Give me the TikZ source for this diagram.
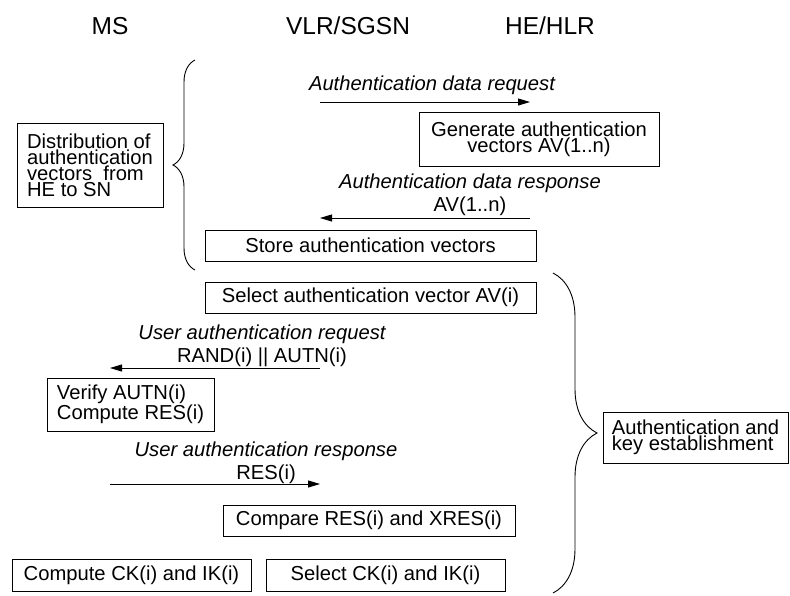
\documentclass[tikz,border=0pt]{standalone}
\usepackage{fontspec}
\setmainfont{Liberation Sans}
\usepackage{tikz}
\usetikzlibrary{arrows.meta,decorations.pathreplacing}
\tikzstyle{Box}=[rectangle, draw=black, line width=0.9pt, inner sep=0pt, align=center, font=\fontsize{20.2}{16}\selectfont]
\tikzstyle{Msg}=[align=center, font=\fontsize{20.2}{22.5}\selectfont]
\tikzstyle{Head}=[font=\fontsize{24.5}{28}\selectfont]
\tikzstyle{Arrow}=[line width=0.9pt, -{Triangle[length=12pt,width=7pt]}]

\begin{document}
\begin{tikzpicture}[x=1pt, y=-1pt]
    \useasboundingbox (0,0) rectangle (790,595);
    \path
    (110,26) node[Head] (ms) {MS}
    (348,26) node[Head] (vlr) {VLR/SGSN}
    (550,26) node[Head] (he) {HE/HLR};

    \path
    (90,165) node[Box, align=left, minimum width=146, minimum height=84] (distr) {Distribution of\\authentication\\vectors~ from\\HE to SN}
    (539,139) node[Box, minimum width=240, minimum height=54] (gen) {Generate authentication\\vectors AV(1..n)}
    (370.5,245.5) node[Box, minimum width=331, minimum height=31] (store) {Store authentication vectors}
    (370.5,297.5) node[Box, minimum width=331, minimum height=31] (selav) {Select authentication vector AV(i)}
    (130.5,404.5) node[Box, align=left, minimum width=167, minimum height=53] (verify) {Verify AUTN(i)\\Compute RES(i)}
    (369,520.5) node[Box, minimum width=292, minimum height=31] (cmp) {Compare RES(i) and XRES(i)}
    (131.5,575) node[Box, minimum width=239, minimum height=32] (ckms) {Compute CK(i) and IK(i)}
    (385.5,575) node[Box, minimum width=239, minimum height=32] (ckvlr) {Select CK(i) and IK(i)}
    (695.5,437.5) node[Box, align=left, minimum width=185, minimum height=51] (ake) {Authentication and\\key establishment};

    \path
    (432,85) node[Msg] (reqlbl) {\itshape Authentication data request}
    (470,195) node[Msg] (rsplbl) {{\itshape Authentication data response}\\AV(1..n)}
    (262,346) node[Msg] (uareq) {{\itshape User authentication request}\\RAND(i) || AUTN(i)}
    (266,463) node[Msg] (uarsp) {{\itshape User authentication response}\\RES(i)};

    \coordinate (req a) at (320,102);
    \coordinate (req b) at (530,102);
    \coordinate (rsp a) at (530,218);
    \coordinate (rsp b) at (320,218);
    \coordinate (uq a) at (320,368);
    \coordinate (uq b) at (110,368);
    \coordinate (ur a) at (110,484);
    \coordinate (ur b) at (320,484);
    \draw[Arrow] (req a) -- (req b);
    \draw[Arrow] (rsp a) -- (rsp b);
    \draw[Arrow] (uq a) -- (uq b);
    \draw[Arrow] (ur a) -- (ur b);

    \coordinate (lb top) at (195,60);
    \coordinate (lb bot) at (195,270);
    \coordinate (rb top) at (553,273);
    \coordinate (rb bot) at (553,593);
    \draw[line width=0.9pt, decorate, decoration={brace, amplitude=22pt}] (lb bot) -- (lb top);
    \draw[line width=0.9pt, decorate, decoration={brace, amplitude=44pt}] (rb top) -- (rb bot);
\end{tikzpicture}
\end{document}
